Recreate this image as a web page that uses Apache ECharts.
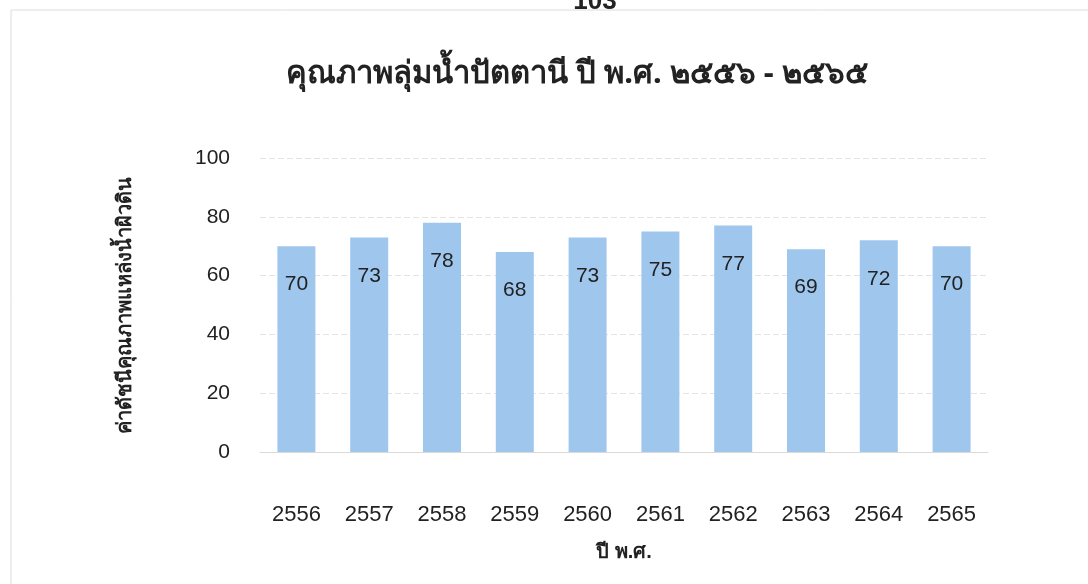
<!DOCTYPE html>
<html>
<head>
<meta charset="utf-8">
<script src="https://cdn.jsdelivr.net/npm/echarts@6/dist/echarts.min.js"></script>
<style>
  html, body { margin: 0; padding: 0; background: #fff; }
  #chart { width: 1088px; height: 584px; }
</style>
</head>
<body>
<div id="chart"></div>
<script>
// ข้อมูลปี พ.ศ. และค่าดัชนี
const years = ['2556', '2557', '2558', '2559', '2560', '2561', '2562', '2563', '2564', '2565']
const wqiValues = [70, 73, 78, 68, 73, 75, 77, 69, 72, 70]
const yTicks = { min: 0, max: 100, interval: 20 }

const chart = echarts.init(document.getElementById('chart'))

const option = {
  animation: false,
  title: [
    {
      text: 'คุณภาพลุ่มน้ำปัตตานี ปี พ.ศ. ๒๕๕๖ - ๒๕๖๕',
      left: 572,
      top: 54,
      textAlign: 'center',
      textStyle: { fontSize: 31, fontWeight: 'bold', color: '#222', fontFamily: 'Noto Sans, sans-serif' }
    },
    {
      text: '103',
      left: 590,
      top: -16,
      textAlign: 'center',
      textStyle: { fontSize: 26, fontWeight: 'bold', color: '#222' }
    }
  ],
  graphic: [
    {
      type: 'rect',
      shape: { x: 11, y: 10, width: 1090, height: 600 },
      style: { fill: 'none', stroke: '#dcdcdc', lineWidth: 1 }
    }
  ],
  grid: { left: 260, right: 100, top: 158, bottom: 132 },
  xAxis: {
    type: 'category',
    data: years,
    name: 'ปี พ.ศ.',
    nameLocation: 'middle',
    nameGap: 90,
    nameTextStyle: { fontSize: 20, fontWeight: 'bold', color: '#222' },
    axisLine: { lineStyle: { color: '#d9d9d9' } },
    axisTick: { show: false },
    axisLabel: { fontSize: 22, color: '#222', margin: 52 }
  },
  yAxis: {
    type: 'value',
    min: yTicks.min,
    max: yTicks.max,
    interval: yTicks.interval,
    name: 'ค่าดัชนีคุณภาพแหล่งน้ำผิวดิน',
    nameLocation: 'middle',
    nameGap: 125,
    nameTextStyle: { fontSize: 20, fontWeight: 'bold', color: '#222' },
    axisLine: { show: false },
    axisTick: { show: false },
    axisLabel: { fontSize: 21, color: '#222', margin: 30 },
    splitLine: { lineStyle: { color: '#e3e3e3', type: [6, 3] } }
  },
  series: [
    {
      type: 'bar',
      data: wqiValues,
      barWidth: 38,
      itemStyle: { color: '#9fc7ee' },
      label: {
        show: true,
        position: 'insideTop',
        distance: 28,
        fontSize: 21,
        color: '#222'
      }
    }
  ]
}

chart.setOption(option)
</script>
</body>
</html>
